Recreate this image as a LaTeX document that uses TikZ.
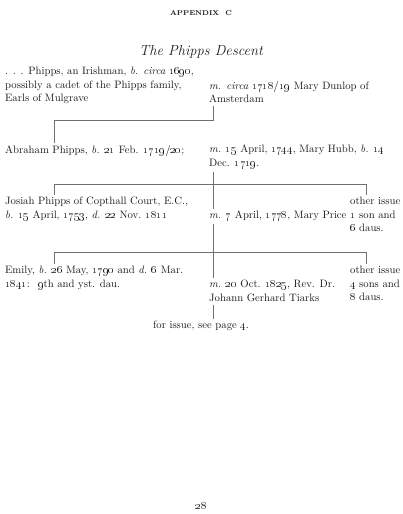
\documentclass[tikz,border=0pt]{standalone}
\usepackage{xcolor}
\definecolor{cInk}{HTML}{1A1A1A}
\definecolor{cLine}{HTML}{707070}
\usepackage{tikz}
\usetikzlibrary{positioning,calc}
% old-style figures, as in the printed page
\newcommand{\os}[1]{\oldstylenums{#1}}
\tikzset{
  entry-text/.style={anchor=north west,inner sep=0pt,align=left,text=cInk,
    font=\fontsize{10.7}{13.5}\selectfont},
  entry-center/.style={entry-text,anchor=north,align=center},
  page-head/.style={inner sep=0pt,text=cInk,font=\fontsize{7}{8}\selectfont\bfseries},
  page-title/.style={inner sep=0pt,text=cInk,font=\fontsize{14.5}{17}\selectfont\itshape},
  link/.style={draw=cLine,line width=0.5pt},
}

\begin{document}
\begin{tikzpicture}[x=1pt,y=-1pt]
  \useasboundingbox (0,0) rectangle (402,514);

  % heading
  \node[page-head] (head) at (201,13) {APPENDIX\ \ C};
  \node[page-title] (title) at (201,52) {The Phipps Descent};

  % first generation
  \node[entry-text] (irish) at (5,67) {. . . Phipps, an Irishman, \textit{b. circa} \os{1690},\\
    possibly a cadet of the Phipps family,\\Earls of Mulgrave};
  \node[entry-text] (dunlop) at (209,81) {\textit{m. circa} \os{1718/19} Mary Dunlop of\\Amsterdam};

  % second generation
  \node[entry-text] (abraham) at (5,145) {Abraham Phipps, \textit{b.} \os{21} Feb. \os{1719/20};};
  \node[entry-text] (hubb) at (209,145) {\textit{m.} \os{15} April, \os{1744}, Mary Hubb, \textit{b.} \os{14}\\
    Dec. \os{1719}.};

  % third generation
  \node[entry-text] (josiah) at (5,197) {Josiah Phipps of Copthall Court, E.C.,\\
    \textit{b.} \os{15} April, \os{1753}, \textit{d.} \os{22} Nov. \os{1811}};
  \node[entry-text] (price) at (209,211) {\textit{m.} \os{7} April, \os{1778}, Mary Price};
  \node[entry-text] (issueA) at (350,197) {other issue\\\os{1} son and\\\os{6} daus.};

  % fourth generation
  \node[entry-text] (emily) at (5,266) {Emily, \textit{b.} \os{26} May, \os{1790} and \textit{d.} \os{6} Mar.\\
    \os{1841}: \ \os{9}th and yst. dau.};
  \node[entry-text] (tiarks) at (209,280) {\textit{m.} \os{20} Oct. \os{1825}, Rev. Dr.\\Johann Gerhard Tiarks};
  \node[entry-text] (issueB) at (350,266) {other issue\\\os{4} sons and\\\os{8} daus.};

  \node[entry-center] (more) at (201,321) {for issue, see page \os{4}.};
  \node[entry-center] (folio) at (201,502) {\os{28}};

  % junctions of the descent lines
  \coordinate (s1) at (213,120);
  \coordinate (a1) at (54,120);
  \coordinate (s2) at (213,184);
  \coordinate (a2) at (54,184);
  \coordinate (o2) at (366,184);
  \coordinate (s3) at (213,252);
  \coordinate (a3) at (54,252);
  \coordinate (o3) at (366,252);

  \draw[link,shorten <=3pt] (s1 |- dunlop.south) -- (s1) -- (a1);
  \draw[link,shorten >=2pt] (a1) -- (a1 |- abraham.north);

  \draw[link,shorten <=3pt] (s2 |- hubb.south) -- (s2);
  \draw[link,shorten >=2pt] (a2) -- (a2 |- josiah.north);
  \draw[link] (a2) -- (o2);
  \draw[link,shorten >=2pt] (o2) -- (o2 |- issueA.north);
  \draw[link,shorten >=2pt] (s2) -- (s2 |- price.north);
  \draw[link,shorten <=3pt] (s3 |- price.south) -- (s3);

  \draw[link,shorten >=2pt] (a3) -- (a3 |- emily.north);
  \draw[link] (a3) -- (o3);
  \draw[link,shorten >=2pt] (o3) -- (o3 |- issueB.north);
  \draw[link,shorten >=2pt] (s3) -- (s3 |- tiarks.north);
  \draw[link,shorten <=3pt,shorten >=2pt] (s3 |- tiarks.south) -- (s3 |- more.north);
\end{tikzpicture}
\end{document}
